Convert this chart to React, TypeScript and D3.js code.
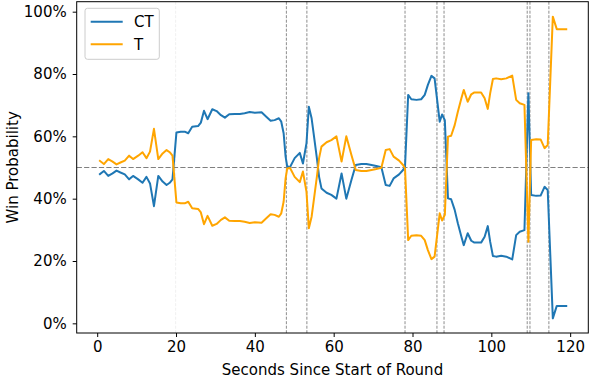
import React, { useEffect, useRef } from "react";
import * as d3 from "d3";

const seconds = [0.7,1.7,2.8,3.9,4.9,5.9,7.0,8.1,9.1,10.4,
11.5,12.5,13.4,14.4,15.5,16.6,17.6,18.4,19.1,20.1,
21.2,22.2,23.1,24.1,25.6,26.3,27.1,28.0,29.2,30.3,
31.4,32.4,33.5,34.9,36.2,37.4,38.7,40.0,41.7,42.9,
44.0,45.0,46.1,46.7,47.3,47.8,48.2,48.9,50.1,51.4,
52.2,53.1,53.7,54.4,54.9,55.8,56.3,56.9,58.2,59.4,
60.7,62.0,63.2,64.5,65.6,67.0,68.3,69.6,70.8,72.1,
73.2,74.2,75.2,76.6,77.6,78.1,78.9,79.7,81.0,82.2,
83.1,83.9,84.8,85.6,86.9,87.5,88.2,89.0,89.8,90.7,
91.5,92.4,93.0,94.0,94.9,95.7,97.4,98.3,99.1,99.7,
100.4,101.2,102.5,103.8,105.3,106.3,107.2,108.4,109.4,110.1,
111.4,112.5,113.5,114.3,115.6,116.6,117.7,119.0];

const ctProb = [47.9,48.9,47.3,48.1,49.0,48.4,47.8,46.2,47.3,46.2,
45.1,47.0,44.9,37.6,47.3,45.5,44.4,45.1,46.2,61.2,
61.5,61.5,61.0,63.1,63.3,64.4,68.2,65.5,68.7,68.1,
66.8,66.0,67.1,67.2,67.2,67.4,67.8,67.6,67.7,66.3,
65.0,65.2,65.8,64.7,61.0,53.5,50.4,50.1,53.0,54.7,
51.3,57.8,69.5,65.8,61.0,52.4,47.0,43.3,41.9,41.2,
40.0,48.1,40.0,46.0,50.8,51.1,51.1,50.8,50.5,50.1,
44.4,44.1,46.5,47.8,49.2,50.3,73.3,71.9,71.7,71.9,
73.3,76.5,79.4,78.6,64.7,67.0,65.2,40.1,39.8,36.4,
32.1,27.8,25.1,28.9,26.5,25.9,25.9,27.8,31.2,26.2,
21.6,21.4,21.7,21.4,20.5,28.3,29.4,29.9,73.8,41.2,
40.9,41.0,43.8,42.8,1.6,5.6,5.6,5.6];

const tProb = [52.1,51.1,52.7,51.9,51.0,51.6,52.2,53.8,52.7,53.8,
54.9,53.0,55.1,62.4,52.7,54.5,55.6,54.9,53.8,38.8,
38.5,38.5,39.0,36.9,36.7,35.6,31.8,34.5,31.3,31.9,
33.2,34.0,32.9,32.8,32.8,32.6,32.2,32.4,32.3,33.7,
35.0,34.8,34.2,35.3,39.0,46.5,49.6,49.9,47.0,45.3,
48.7,42.2,30.5,34.2,39.0,47.6,53.0,56.7,58.1,58.8,
60.0,51.9,60.0,54.0,49.2,48.9,48.9,49.2,49.5,49.9,
55.6,55.9,53.5,52.2,50.8,49.7,26.7,28.1,28.3,28.1,
26.7,23.5,20.6,21.4,35.3,33.0,34.8,59.9,60.2,63.6,
67.9,72.2,74.9,71.1,73.5,74.1,74.1,72.2,68.8,73.8,
78.4,78.6,78.3,78.6,79.5,71.7,70.6,70.1,26.2,58.8,
59.1,59.0,56.2,57.2,98.4,94.4,94.4,94.4];

const eventSeconds = [48.0, 53.2, 78.1, 86.2, 88.0, 109.1, 109.8, 114.6];
const faintSeconds = [19.9];
const xTicks = [0, 20, 40, 60, 80, 100, 120];
const yTicks = [0, 20, 40, 60, 80, 100];
const seriesNames = ["CT", "T"];
const seriesColors = ["#1f77b4", "#ffa500"];

const W = 590, H = 378;
const L = 76.7, R = 588.3, T = 1.7, B = 333;
const FONT = "DejaVu Sans, sans-serif";
const FS = 15;

export default function App() {
  const ref = useRef<SVGSVGElement>(null);
  useEffect(() => {
    const svg = d3.select(ref.current);
    svg.selectAll("*").remove();
    const x = d3.scaleLinear().domain([-5.2, 124.6]).range([L, R]);
    const y = d3.scaleLinear().domain([-3.1, 103.2]).range([B, T]);

    const g = svg.append("g");
    faintSeconds.forEach((s) => {
      g.append("line").attr("x1", x(s)).attr("x2", x(s)).attr("y1", T).attr("y2", B)
        .attr("stroke", "#f0f0f0").attr("stroke-width", 1).attr("stroke-dasharray", "3,1.5");
    });
    eventSeconds.forEach((s) => {
      g.append("line").attr("x1", x(s)).attr("x2", x(s)).attr("y1", T).attr("y2", B)
        .attr("stroke", "#808080").attr("stroke-width", 0.9).attr("stroke-dasharray", "3,1.5");
    });
    g.append("line").attr("x1", L).attr("x2", R).attr("y1", y(50)).attr("y2", y(50))
      .attr("stroke", "#808080").attr("stroke-width", 1.1).attr("stroke-dasharray", "5.2,2.2");

    const series = [ctProb, tProb];
    series.forEach((vals, i) => {
      const line = d3.line<number>().x((_, j) => x(seconds[j])).y((d) => y(d));
      g.append("path").attr("d", line(vals) as string).attr("fill", "none")
        .attr("stroke", seriesColors[i]).attr("stroke-width", 2)
        .attr("stroke-linejoin", "round").attr("stroke-linecap", "square");
    });

    svg.append("rect").attr("x", L).attr("y", T).attr("width", R - L).attr("height", B - T)
      .attr("fill", "none").attr("stroke", "#000").attr("stroke-width", 1);

    const xa = svg.append("g").attr("transform", `translate(0,${B})`)
      .call(d3.axisBottom(x).tickValues(xTicks).tickSize(4).tickPadding(4).tickFormat((d) => String(d)));
    xa.select(".domain").remove();
    xa.selectAll("text").attr("font-family", FONT).attr("font-size", FS).attr("fill", "#000");

    const ya = svg.append("g").attr("transform", `translate(${L},0)`)
      .call(d3.axisLeft(y).tickValues(yTicks).tickSize(4).tickPadding(6).tickFormat((d) => `${d}%`));
    ya.select(".domain").remove();
    ya.selectAll("text").attr("font-family", FONT).attr("font-size", FS).attr("fill", "#000");

    svg.append("text").attr("x", (L + R) / 2).attr("y", 374.5).attr("text-anchor", "middle")
      .attr("font-family", FONT).attr("font-size", FS).text("Seconds Since Start of Round");
    svg.append("text").attr("transform", `translate(17.5,${(T + B) / 2}) rotate(-90)`)
      .attr("text-anchor", "middle").attr("font-family", FONT).attr("font-size", FS).text("Win Probability");

    const lg = svg.append("g");
    lg.append("rect").attr("x", 85).attr("y", 8.3).attr("width", 74.3).attr("height", 51)
      .attr("rx", 2.5).attr("fill", "#fff").attr("fill-opacity", 0.8)
      .attr("stroke", "#cccccc").attr("stroke-width", 1);
    seriesNames.forEach((name, i) => {
      const yy = 21.7 + i * 22.6;
      lg.append("line").attr("x1", 90.7).attr("x2", 122.7).attr("y1", yy).attr("y2", yy)
        .attr("stroke", seriesColors[i]).attr("stroke-width", 2);
      lg.append("text").attr("x", 134).attr("y", yy + 5.5).attr("font-family", FONT)
        .attr("font-size", FS).text(name);
    });
  }, []);
  return (
    <svg ref={ref} width={W} height={H} style={{ position: "absolute", left: 0, top: 0, background: "#fff" }} />
  );
}
